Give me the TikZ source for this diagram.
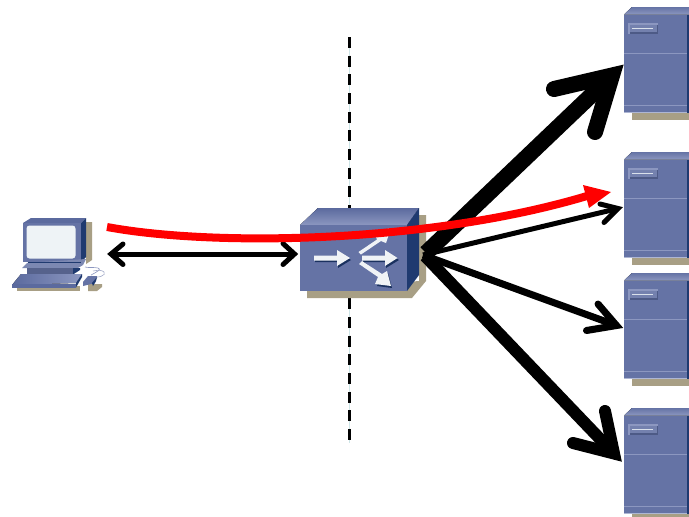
\documentclass[tikz,border=0pt]{standalone}
\usetikzlibrary{calc}
\definecolor{bluefront}{HTML}{6573A5}
\definecolor{bluelight}{HTML}{8C97C0}
\definecolor{bluemid}{HTML}{5B6A9E}
\definecolor{bluedark}{HTML}{1F3A70}
\definecolor{shadowtan}{HTML}{A89F85}
\definecolor{screenwhite}{HTML}{EEF3F6}
\definecolor{arrowwhite}{HTML}{F0F3F6}
\definecolor{gapblue}{HTML}{CFE6E8}
\definecolor{redline}{HTML}{FF0000}
\tikzset{
  x=1pt,y=-1pt,
  conn/.style={draw=black,line cap=butt,line join=miter,miter limit=20},
  barb/.style={draw=black,line cap=round,line join=miter,miter limit=20},
  shadowpart/.style={fill=shadowtan,draw=none},
  frontpart/.style={fill=bluefront,draw=none},
  darkpart/.style={fill=bluedark,draw=none},
  whitearrow/.style={fill=arrowwhite,draw=none},
  arrowshadow/.style={fill=bluedark!85!black,draw=none},
  serverpic/.pic={
    \fill[shadowpart] (7.5,106) rectangle (65,113);
    \fill[top color=bluefront,bottom color=bluelight] (0,7.5) -- (8,0) -- (65,0) -- (65,7.5) -- cycle;
    \fill[frontpart] (0,7.5) rectangle (63,106);
    \fill[darkpart] (63,7.5) rectangle (65,106);
    \draw[bluelight,line width=0.9pt] (0,46.5) -- (63,46.5);
    \draw[bluelight,line width=0.9pt] (0,98.5) -- (63,98.5);
    \draw[bluelight!70!white,line width=0.8pt] (0,105.7) -- (63,105.7);
    \fill[bluelight] (4,16) rectangle (34,26.5);
    \fill[bluemid!85!black] (5.5,17.5) rectangle (34,26.5);
    \fill[bluefront!90!white] (5.5,17.5) rectangle (32.5,25);
    \draw[screenwhite!80!bluelight,line width=1.2pt] (8,21.5) -- (29,21.5);
  }
}
\begin{document}
\begin{tikzpicture}
\useasboundingbox (0,0) rectangle (689,517);
\clip (0,0) rectangle (689,517);
\fill[white] (0,0) rectangle (689,517);

% dashed boundary
\coordinate (dashtop) at (349.5,37);
\coordinate (dashbottom) at (349.5,443);
\draw[gapblue,line width=0.8pt] (dashtop) -- (dashbottom);
\draw[black,line width=2.7pt,dash pattern=on 11pt off 7.67pt] (dashtop) -- (dashbottom);

% servers
\pic at (624,7) {serverpic};
\pic at (624,152) {serverpic};
\pic at (624,273) {serverpic};
\pic at (624,408) {serverpic};

% computer
\fill[shadowpart] (86,222) -- (92,222) -- (92,260) -- (86,264) -- cycle;
\fill[shadowpart] (17,286) -- (80,286) -- (80,291) -- (17,291) -- cycle;
\fill[shadowpart] (88,284) -- (102,284) -- (102,287) -- (97,291) -- (88,291) -- cycle;
\fill[bluemid] (23,223) -- (31,218) -- (86,218) -- (81,223) -- cycle;
\fill[frontpart] (23,223) rectangle (81,262);
\fill[darkpart] (81,223) -- (86,218) -- (86,257) -- (81,262) -- cycle;
\fill[screenwhite,rounded corners=3pt] (26.5,225.5) rectangle (75.5,258.5);
\fill[bluefront!85!white] (22,268) -- (27,263) -- (86,259) -- (83,265) -- (78,268) -- cycle;
\fill[bluedark] (28,261.5) rectangle (81,263);
\fill[bluefront!85!black] (27,268) rectangle (73,274.5);
\fill[darkpart] (73,268) -- (80,268) -- (80,270) -- (73,274.5) -- cycle;
\fill[left color=bluemid,right color=bluelight] (12,285) -- (21,274) -- (82,274) -- (76,283) -- cycle;
\fill[bluemid] (12,284) rectangle (76,287.5);
\fill[bluedark] (76,283) -- (82,274) -- (82,277) -- (76,287.5) -- cycle;
\draw[bluelight,line width=0.6pt] (91,275) .. controls (97,272) and (102,269) .. (98,268) .. controls (94,267) and (88,268) .. (85,267);
\draw[bluefront!60!white,line width=0.6pt] (91,276) .. controls (98,279) and (107,275) .. (104,272) .. controls (102,270) and (98,270) .. (93,271);
\fill[bluefront] (83,282) -- (88,276) -- (97,276) -- (95,283) -- (83,286) -- cycle;
\fill[bluedark] (92,283) -- (97,277) -- (96,281) -- (93,286) -- cycle;

% switch
\fill[shadowpart] (307,291) -- (307,298) -- (412,298) -- (426,281) -- (426,215) -- (419,215) -- (419,281) -- cycle;
\fill[top color=bluemid,bottom color=bluelight] (300,225) -- (318,208) -- (419,208) -- (407,225) -- cycle;
\fill[frontpart] (300,225) rectangle (407,291);
\fill[darkpart] (407,225) -- (419,208) -- (419,275) -- (407,291) -- cycle;
\node[inner sep=0pt,minimum size=0pt] (switch) at (353.5,258) {};
% switch glyphs
\fill[arrowshadow] (315,258) -- (338,258) -- (338,252) -- (351,260) -- (338,268) -- (338,262) -- (315,262) -- cycle;
\fill[arrowshadow] (363,258) -- (386,258) -- (386,252) -- (399,260) -- (386,268) -- (386,262) -- (363,262) -- cycle;
\fill[arrowshadow] (361,265) -- (380,277) -- (377,286) -- (392,288) -- (388,273) -- (384,277) -- (364,262) -- cycle;
\fill[whitearrow] (314,255.5) -- (337,255.5) -- (337,250) -- (350,258) -- (337,266) -- (337,260.5) -- (314,260.5) -- cycle;
\fill[whitearrow] (362,255.5) -- (385,255.5) -- (385,250) -- (397.5,258) -- (385,266) -- (385,260.5) -- (362,260.5) -- cycle;
\fill[whitearrow] (358.5,252) -- (377,239.5) -- (374,232) -- (391,228) -- (386,243) -- (381,241) -- (361,254.5) -- cycle;
\fill[whitearrow] (359,264) -- (378,277) -- (375,284) -- (391,286) -- (387,271) -- (382,274) -- (362,261) -- cycle;

% connector end points
\coordinate (pcport) at (111,254);
\coordinate (pcbarbA) at (123,244);
\coordinate (pcbarbB) at (123,264.5);
\coordinate (swport) at (294.5,254);
\coordinate (swbarbA) at (283,243.5);
\coordinate (swbarbB) at (283,264.5);

\coordinate (startA) at (426,253);
\coordinate (tipA) at (612,75.5);
\coordinate (barbAa) at (554,89);
\coordinate (barbAb) at (595,132);

\coordinate (startB) at (423,255);
\coordinate (tipB) at (618,208.5);
\coordinate (barbBa) at (600,204);
\coordinate (barbBb) at (604,222.5);

\coordinate (startC) at (423,255);
\coordinate (tipC) at (616.5,325.5);
\coordinate (barbCa) at (598,304);
\coordinate (barbCb) at (586.5,330.5);

\coordinate (startD) at (425,256);
\coordinate (tipD) at (614,453.5);
\coordinate (barbDa) at (605,411);
\coordinate (barbDb) at (573,443);

% host to switch
\draw[conn,line width=5pt] (pcport) -- (swport);
\draw[barb,line width=5pt] (pcbarbA) -- (pcport) -- (pcbarbB);
\draw[barb,line width=5pt] (swbarbA) -- (swport) -- (swbarbB);

% switch to servers
\draw[conn,line width=16pt] (startA) -- (tipA);
\draw[barb,line width=16pt] (barbAa) -- (tipA) -- (barbAb);
\draw[conn,line width=5pt] (startB) -- (tipB);
\draw[barb,line width=5pt] (barbBa) -- (tipB) -- (barbBb);
\draw[conn,line width=7pt] (startC) -- (tipC);
\draw[barb,line width=7pt] (barbCa) -- (tipC) -- (barbCb);
\draw[conn,line width=12pt] (startD) -- (tipD);
\draw[barb,line width=12pt] (barbDa) -- (tipD) -- (barbDb);

% red path
\coordinate (redstart) at (107,227);
\coordinate (redend) at (587,196);
\coordinate (redtip) at (611,192);
\coordinate (redheadA) at (583,185);
\coordinate (redheadB) at (589,208);
\draw[redline,line width=8pt] (redstart) .. controls (215,247) and (430,243) .. (redend);
\fill[redline] (redheadA) -- (redtip) -- (redheadB) -- cycle;
\end{tikzpicture}
\end{document}
